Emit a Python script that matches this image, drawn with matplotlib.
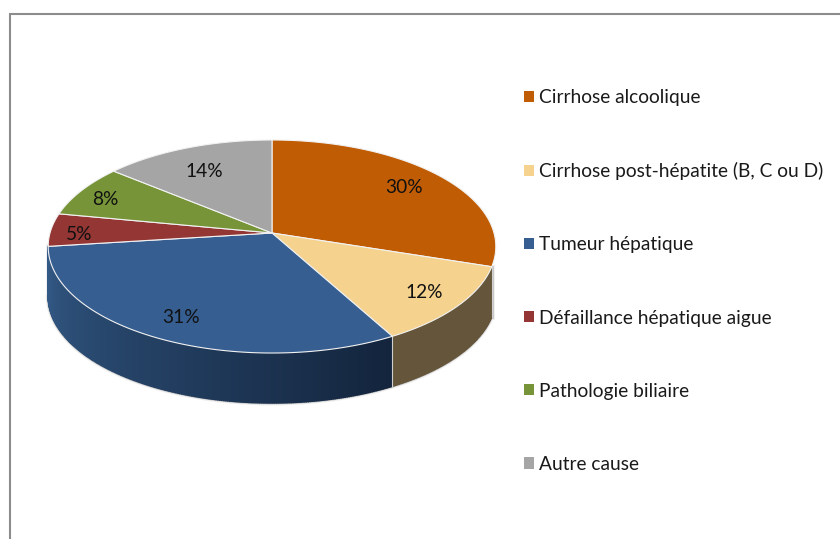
import numpy as np
import matplotlib
matplotlib.use('Agg')
import matplotlib.pyplot as plt
from matplotlib.patches import Patch

# data
categories = ['Cirrhose alcoolique', 'Cirrhose post-hépatite (B, C ou D)', 'Tumeur hépatique',
              'Défaillance hépatique aigue', 'Pathologie biliaire', 'Autre cause']
values = [30, 12, 31, 5, 8, 14]

top_colors = ['#C05C04', '#F5D28E', '#365E91', '#933634', '#779538', '#A5A5A5']
# wall colour at the start / end of each slice (clockwise)
wall_start = ['#6E5A3A', '#65563B', '#13243C', '#5E2422', '#4C5F24', '#6A6A6A']
wall_end = ['#6E5A3A', '#65563B', '#335A87', '#5E2422', '#4C5F24', '#6A6A6A']
label_r = [0.78, 0.83, 0.82, 0.87, 0.87, 0.78]
label_dy = [0, 0, 0, 4, 4, 6]

# pie geometry in pixels
cx, cy = 272, 233
bx, ay, k = 222, 104.8, 0.1268
depth = 50


def project(theta, r=1.0):
    u = r * np.cos(theta)
    v = r * np.sin(theta)
    d = 1 + k * v
    return cx + bx * u / d, cy - ay * v / d


def mix(c1, c2, t):
    a = np.array(matplotlib.colors.to_rgb(c1))
    b = np.array(matplotlib.colors.to_rgb(c2))
    return a + (b - a) * t


fig = plt.figure(figsize=(8.4, 5.39), dpi=100)
ax = fig.add_axes([0, 0, 1, 1])
ax.set_xlim(0, 840)
ax.set_ylim(539, 0)
ax.axis('off')

# outer frame
ax.plot([10, 10, 840], [539, 13.5, 13.5], color='#8C8C8C', lw=1.5, solid_joinstyle='miter')

# slice angles, clockwise from the top
cum = np.cumsum([0] + values) / sum(values)
angles = np.pi / 2 - 2 * np.pi * cum

# visible side of the disc: tan and blue slices only
t_right = angles[1]
t_left = angles[3]

# soft rim under the wall
rim_t = np.linspace(t_right, t_left, 300)
rx, ry = project(rim_t)
for lw, col in [(3.5, '#EFEFEF'), (2, '#C4C4C4')]:
    ax.plot(rx, ry + depth, color=col, lw=lw, zorder=1)
    ax.plot([rx[0], rx[0]], [ry[0], ry[0] + depth], color=col, lw=lw, zorder=1)
    ax.plot([rx[-1], rx[-1]], [ry[-1], ry[-1] + depth], color=col, lw=lw, zorder=1)

# walls
for i in range(len(values)):
    t0, t1 = angles[i], angles[i + 1]
    t0 = min(t0, t_right)
    t1 = max(t1, t_left)
    if t0 <= t1:
        continue
    n = max(int((t0 - t1) * 120), 2)
    ts = np.linspace(t0, t1, n + 1)
    for j in range(n):
        x, y = project(ts[j:j + 2])
        col = mix(wall_start[i], wall_end[i], j / n)
        ax.fill([x[0], x[1], x[1], x[0]], [y[0], y[1], y[1] + depth, y[0] + depth],
                facecolor=col, edgecolor=col, lw=1.0, zorder=2)
    xe, ye = project(t0)
    if i > 0:
        ax.plot([xe, xe], [ye, ye + depth], color='#D0D0D0', lw=0.8, zorder=3)

# top of the pie
for i in range(len(values)):
    ts = np.linspace(angles[i], angles[i + 1], 120)
    x, y = project(ts)
    ax.fill(np.r_[cx, x], np.r_[cy, y], color=top_colors[i], ec='#F2F2F2', lw=0.8, zorder=4)

    mid = (angles[i] + angles[i + 1]) / 2
    lx, ly = project(mid, label_r[i])
    ax.text(lx, ly + label_dy[i], f'{values[i]}%', ha='center', va='center', fontsize=13.8,
            family='Lato', color='#111111', zorder=5)

handles = [Patch(facecolor=c, edgecolor='none') for c in top_colors]
leg = ax.legend(handles, categories, loc='upper left', bbox_to_anchor=(524, 89),
                bbox_transform=ax.transData, frameon=False, prop={'family': 'Lato', 'size': 13.8},
                labelspacing=2.93, handlelength=0.52, handleheight=0.52, handletextpad=0.28,
                borderpad=0, borderaxespad=0)
for t in leg.get_texts():
    t.set_color('#1A1A1A')

fig.savefig('out.png', dpi=100)
